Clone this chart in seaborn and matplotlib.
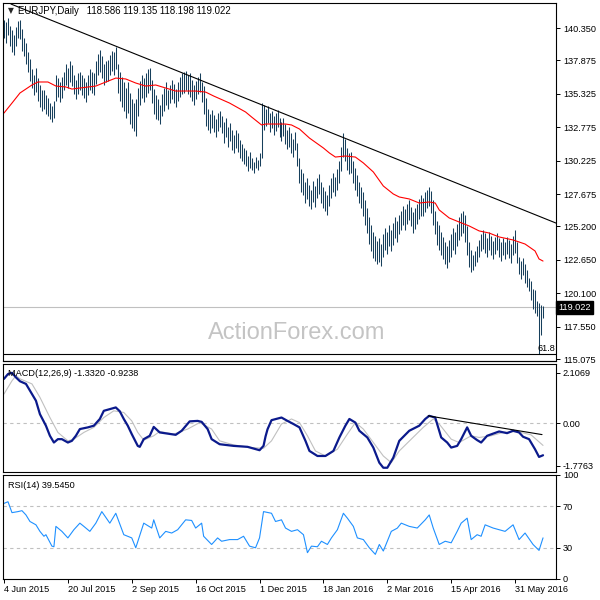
import numpy as np
import pandas as pd
import matplotlib
matplotlib.use("Agg")
import matplotlib.pyplot as plt
import seaborn as sns
from matplotlib.transforms import blended_transform_factory

# ---------------- data ----------------
date_labels = ["4 Jun 2015", "20 Jul 2015", "2 Sep 2015", "16 Oct 2015", "1 Dec 2015",
               "18 Jan 2016", "2 Mar 2016", "15 Apr 2016", "31 May 2016"]
date_label_idx = [0, 32, 64, 96, 128, 160, 192, 224, 256]

high = (
    [141.0, 140.8, 141.1, 140.5, 140.2, 139.8, 140.4, 140.9, 141.0, 140.3] +
    [139.6, 139.2, 138.5, 138.0, 137.2, 136.8, 137.3, 136.5, 136.0, 135.6] +
    [135.6, 135.2, 135.0, 134.6, 134.4, 134.8, 136.8, 136.5, 136.2, 136.6] +
    [137.0, 137.6, 137.3, 137.8, 137.5, 136.8, 136.4, 136.9, 137.0, 136.8] +
    [136.5, 136.2, 136.8, 137.2, 137.0, 136.9, 137.8, 138.4, 138.7, 138.2] +
    [137.6, 137.8, 137.9, 138.3, 138.6, 138.5, 138.9, 137.6, 137.0, 136.6] +
    [136.2, 135.8, 136.2, 135.4, 134.9, 134.6, 134.9, 135.8, 136.3, 136.8] +
    [136.5, 136.9, 137.2, 137.3, 136.4, 135.7, 135.2, 134.9, 134.5, 135.3] +
    [135.8, 136.2, 135.6, 136.0, 136.4, 136.1, 135.7, 136.2, 136.6, 136.9] +
    [137.0, 137.1, 136.8, 136.9, 136.4, 136.0, 136.3, 136.6, 136.9, 136.2] +
    [135.9, 135.0, 134.2, 133.8, 134.1, 133.7, 133.4, 133.9, 134.0, 133.6] +
    [133.2, 133.5, 132.8, 133.1, 132.6, 132.2, 132.6, 132.3, 131.8, 131.5] +
    [131.2, 131.0, 130.6, 130.9, 130.4, 130.1, 130.5, 130.3, 130.8, 134.6] +
    [134.5, 134.2, 134.4, 133.9, 134.0, 133.6, 133.9, 134.1, 133.5, 133.2] +
    [133.5, 133.0, 132.6, 132.8, 132.3, 131.9, 132.4, 131.6, 130.4, 129.6] +
    [129.3, 128.6, 128.9, 128.4, 128.0, 128.7, 128.3, 128.9, 129.2, 128.6] +
    [128.2, 127.9, 127.6, 128.4, 128.9, 129.3, 129.0, 129.6, 130.2, 131.3] +
    [132.3, 131.9, 131.2, 130.8, 130.9, 130.2, 129.7, 129.1, 128.6, 128.2] +
    [127.8, 127.2, 126.6, 125.9, 125.3, 124.8, 124.5, 124.1, 124.3, 123.9] +
    [124.6, 125.1, 124.8, 125.3, 124.9, 125.5, 125.9, 125.6, 126.1, 126.4] +
    [126.8, 126.5, 126.9, 127.2, 126.7, 126.3, 126.6, 126.9, 127.3, 127.6] +
    [127.4, 127.8, 128.0, 128.2, 127.9, 127.2, 126.4, 125.6, 125.3, 124.8] +
    [124.4, 124.0, 123.7, 124.2, 124.6, 125.1, 124.8, 125.4, 125.9, 126.2] +
    [126.4, 126.1, 125.2, 124.0, 123.4, 123.0, 123.3, 123.7, 124.2, 124.6] +
    [124.9, 124.7, 124.3, 124.8, 124.5, 124.1, 124.4, 124.7, 124.3, 124.0] +
    [124.3, 124.0, 124.4, 124.2, 123.9, 124.5, 124.9, 124.0, 122.9, 122.6] +
    [122.8, 122.3, 121.9, 121.3, 121.0, 120.4, 120.35, 119.5, 119.35, 119.2, 119.135]
)
low = (
    [139.6, 139.2, 139.8, 139.0, 138.5, 138.3, 139.0, 139.6, 139.5, 138.6] +
    [138.2, 137.6, 137.0, 136.3, 135.8, 135.2, 135.5, 134.8, 134.3, 134.0] +
    [134.2, 133.8, 133.6, 133.4, 133.2, 133.5, 134.8, 135.1, 134.7, 135.0] +
    [135.6, 136.0, 135.8, 136.2, 135.9, 135.3, 134.9, 135.3, 135.6, 135.2] +
    [135.0, 134.7, 135.2, 135.6, 135.4, 135.2, 136.1, 136.8, 137.0, 136.5] +
    [136.0, 136.2, 136.3, 136.8, 137.1, 136.8, 137.2, 135.4, 134.8, 134.3] +
    [134.0, 133.5, 133.9, 133.0, 132.7, 132.5, 132.1, 133.6, 134.5, 135.0] +
    [134.7, 135.1, 135.4, 135.6, 134.6, 133.8, 133.4, 133.3, 133.0, 133.6] +
    [134.0, 134.5, 134.2, 134.6, 134.9, 134.6, 134.3, 134.8, 135.1, 135.3] +
    [135.4, 135.6, 135.3, 135.1, 134.8, 134.5, 134.9, 135.3, 135.5, 134.7] +
    [133.8, 132.9, 132.6, 132.3, 132.7, 132.4, 132.0, 132.5, 132.8, 132.3] +
    [131.6, 132.0, 131.3, 131.7, 131.0, 130.8, 131.2, 130.9, 130.4, 130.2] +
    [130.0, 129.8, 129.4, 129.7, 129.5, 129.3, 129.7, 129.5, 129.8, 130.4] +
    [132.6, 132.9, 133.1, 132.4, 132.7, 132.2, 132.5, 132.8, 132.0, 131.7] +
    [132.1, 131.5, 131.1, 131.3, 130.8, 130.5, 131.0, 129.8, 128.5, 127.8] +
    [127.6, 127.0, 127.3, 126.8, 126.5, 127.1, 126.7, 127.4, 127.7, 127.0] +
    [126.6, 126.4, 126.1, 126.8, 127.4, 127.8, 127.5, 128.0, 128.5, 129.4] +
    [130.5, 130.2, 129.5, 129.2, 129.3, 128.5, 128.0, 127.5, 127.0, 126.6] +
    [126.0, 125.3, 124.7, 123.9, 123.3, 122.8, 122.6, 122.3, 122.5, 122.2] +
    [122.9, 123.4, 123.1, 123.7, 123.3, 123.8, 124.3, 124.0, 124.6, 124.9] +
    [125.3, 124.9, 125.4, 125.7, 125.2, 124.7, 125.0, 125.4, 125.8, 126.0] +
    [126.0, 126.3, 126.6, 126.8, 126.2, 125.3, 124.6, 123.8, 123.4, 123.0] +
    [122.7, 122.3, 122.0, 122.5, 122.9, 123.4, 123.1, 123.7, 124.2, 124.5] +
    [124.7, 124.0, 123.0, 122.1, 121.7, 121.9, 122.2, 122.5, 122.9, 123.3] +
    [123.5, 123.2, 122.9, 123.4, 123.0, 122.7, 123.1, 123.4, 122.9, 122.6] +
    [123.0, 122.7, 123.1, 122.8, 122.4, 123.0, 123.2, 122.4, 121.6, 121.2] +
    [121.5, 120.9, 120.6, 120.3, 119.6, 118.9, 118.6, 118.4, 115.45, 116.9, 118.198]
)

ma_idx = [0, 4, 8, 14, 17, 22, 26, 31, 34, 38, 46, 51, 56, 61, 66, 71, 76, 81, 86, 91, 96,
          101, 105, 113, 121, 124, 129, 131, 136, 141, 144, 148, 153, 160, 163, 166, 171, 176,
          180, 185, 190, 195, 198, 203, 208, 213, 216, 218, 223, 228, 233, 238, 243, 248, 255,
          261, 266, 268, 270]
ma_val = [133.86, 134.62, 135.39, 136.0, 136.23, 136.23, 135.92, 135.85, 135.69, 135.77, 135.92,
          136.23, 136.53, 136.46, 136.15, 135.92, 136.0, 135.77, 135.54, 135.54, 135.54, 135.46,
          135.16, 134.62, 133.94, 133.56, 132.95, 133.02, 133.02, 133.02, 132.95, 132.64, 131.95,
          131.19, 130.81, 130.50, 130.58, 130.50, 130.05, 129.36, 128.29, 127.68, 127.45, 127.30,
          126.99, 127.07, 126.99, 126.46, 125.85, 125.54, 125.24, 124.86, 124.70, 124.40, 124.17,
          123.86, 123.33, 122.72, 122.56]

trend_idx = [3.5, 276.5]
trend_val = [142.18, 125.46]
last_close = 119.022
fib_level = 115.46

macd_idx = [0, 2, 4, 6, 8, 11, 13, 16, 18, 21, 23, 25, 27, 29, 32, 34, 36, 38, 42, 45, 48, 50,
            53, 56, 58, 60, 62, 64, 67, 68, 70, 73, 75, 78, 82, 86, 89, 93, 97, 99, 102, 104,
            108, 115, 122, 128, 130, 131, 132, 134, 139, 142, 145, 148, 151, 153, 157, 161, 165,
            168, 171, 173, 176, 178, 182, 185, 188, 190, 192, 195, 198, 203, 208, 211, 213, 216,
            219, 222, 224, 227, 229, 232, 234, 237, 239, 242, 245, 248, 252, 255, 258, 260, 263,
            266, 268, 270]
macd_val = [1.85, 2.05, 2.10, 1.91, 1.75, 1.64, 1.36, 0.94, 0.38, -0.10, -0.52, -0.80, -0.66,
            -0.66, -0.80, -0.73, -0.52, -0.24, -0.17, -0.10, 0.18, 0.52, 0.59, 0.66, 0.50, 0.18,
            -0.10, -0.45, -0.94, -0.98, -0.66, -0.52, -0.15, -0.38, -0.43, -0.48, -0.31, 0.08,
            0.10, 0.06, -0.24, -0.66, -0.87, -0.94, -0.98, -1.12, -0.94, -0.55, -0.25, 0.13, 0.24,
            0.10, -0.03, -0.17, -0.73, -1.15, -1.36, -1.36, -1.15, -0.59, -0.10, 0.18, 0.03, -0.31,
            -0.59, -1.01, -1.64, -1.85, -1.85, -1.43, -0.73, -0.31, -0.10, 0.18, 0.31, 0.24, -0.59,
            -0.80, -1.01, -0.94, -0.66, -0.17, -0.52, -0.70, -0.80, -0.52, -0.43, -0.34, -0.41,
            -0.31, -0.38, -0.56, -0.66, -1.08, -1.40, -1.33]

signal_idx = [0, 4, 6, 8, 14, 18, 23, 27, 32, 35, 40, 45, 50, 55, 60, 64, 67, 70, 75, 78, 85,
              92, 98, 104, 108, 115, 124, 130, 134, 139, 144, 148, 152, 156, 161, 167, 172, 176,
              180, 185, 190, 194, 198, 204, 210, 215, 218, 224, 228, 234, 238, 244, 250, 257,
              264, 267, 270]
signal_val = [1.22, 1.77, 1.98, 1.85, 1.64, 1.08, 0.24, -0.38, -0.73, -0.66, -0.38, -0.17, 0.24,
              0.52, 0.45, 0.10, -0.38, -0.70, -0.52, -0.34, -0.45, -0.24, 0.03, -0.24, -0.73,
              -0.90, -1.01, -1.04, -0.73, -0.03, 0.18, 0.03, -0.52, -1.15, -1.36, -1.08, -0.45,
              0.03, -0.24, -0.80, -1.36, -1.64, -1.15, -0.66, -0.17, 0.18, -0.03, -0.66, -0.80,
              -0.52, -0.59, -0.52, -0.38, -0.34, -0.48, -0.70, -0.92]
macd_trend_idx = [212.5, 269.5]
macd_trend_val = [0.31, -0.47]

rsi_idx = [0, 2, 4, 7, 9, 11, 13, 16, 18, 20, 21, 24, 25, 26, 29, 32, 35, 38, 40, 43, 46, 49,
           53, 56, 60, 64, 66, 70, 74, 75, 78, 81, 84, 87, 91, 94, 96, 99, 100, 104, 107, 109,
           113, 117, 120, 123, 126, 128, 130, 134, 136, 139, 141, 144, 147, 150, 152, 154, 157,
           159, 162, 164, 167, 170, 172, 175, 177, 180, 183, 186, 188, 190, 192, 194, 197, 199,
           203, 207, 211, 213, 215, 218, 221, 224, 227, 229, 232, 234, 237, 239, 241, 245, 248,
           251, 255, 258, 261, 265, 268, 270]
rsi_val = [72.7, 74.3, 63.8, 64.8, 65.7, 61.6, 55.3, 52.1, 45.8, 41.1, 42.6, 31.6, 31.0, 50.6,
           45.8, 39.5, 47.4, 53.7, 50.6, 45.8, 53.7, 64.8, 53.7, 63.2, 42.6, 39.5, 30.0, 53.7,
           49.0, 56.9, 39.5, 45.8, 44.2, 47.4, 56.9, 56.3, 49.0, 53.7, 41.1, 33.2, 39.5, 36.3,
           37.9, 37.9, 41.1, 31.6, 30.0, 39.5, 64.8, 63.2, 55.3, 56.9, 49.0, 45.8, 47.4, 42.6,
           25.3, 31.6, 31.0, 36.3, 33.2, 39.5, 47.4, 63.2, 58.5, 50.6, 39.5, 37.9, 30.0, 23.7,
           33.2, 26.9, 36.3, 45.8, 48.9, 53.7, 50.6, 49.0, 56.9, 61.6, 49.0, 33.2, 36.3, 34.8,
           45.8, 53.7, 58.5, 37.9, 42.6, 41.1, 52.1, 49.0, 47.4, 45.8, 52.1, 37.9, 44.2, 33.2,
           27.5, 39.545]

# ---------------- style ----------------
sns.set_theme(style="white")
plt.rcParams["font.family"] = ["Liberation Sans", "DejaVu Sans"]
plt.rcParams["axes.linewidth"] = 0.75

W = H = 600.0
fig = plt.figure(figsize=(6, 6), dpi=100)
fig.patch.set_facecolor("white")


def rect(top, bottom, left=3, right=556):
    return [left / W, 1 - bottom / H, (right - left) / W, (bottom - top) / H]


ax = fig.add_axes(rect(3, 361))
axm = fig.add_axes(rect(364, 472), sharex=ax)
axr = fig.add_axes(rect(475, 579), sharex=ax)

FS = 6.6
BAR = "#173f5c"
idx = np.arange(len(high))
bars = pd.DataFrame({"i": idx, "high": high, "low": low})

# ---------------- main price panel ----------------
ax.vlines(bars["i"], bars["low"], bars["high"], color=BAR, linewidth=0.75)
ma_df = pd.DataFrame({"i": ma_idx, "ma": ma_val})
sns.lineplot(data=ma_df, x="i", y="ma", ax=ax, color="#ff0000", linewidth=0.8,
             sort=False, estimator=None)
tr_df = pd.DataFrame({"i": trend_idx, "v": trend_val})
sns.lineplot(data=tr_df, x="i", y="v", ax=ax, color="black", linewidth=0.8,
             sort=False, estimator=None)
ax.axhline(last_close, color="#c0c0c0", linewidth=0.8, zorder=0)
ax.axhline(fib_level, color="black", linewidth=0.8)
ax.set_xlim(-0.5, 276.5)
ax.set_ylim(114.93, 142.26)
price_ticks = [140.350, 137.875, 135.325, 132.775, 130.225, 127.675, 125.200,
               122.650, 120.100, 117.550, 115.075]
ax.set_yticks(price_ticks)
ax.set_yticklabels([f"{t:.3f}" for t in price_ticks])
ax.text(1.0 - 0.002, fib_level + 0.1, "61.8",
        transform=blended_transform_factory(ax.transAxes, ax.transData),
        ha="right", va="bottom", fontsize=FS, color="black")
ax.text(1.0 + 2 / 553, last_close, "119.022",
        transform=blended_transform_factory(ax.transAxes, ax.transData),
        ha="left", va="center", fontsize=FS, color="white", zorder=10, clip_on=False,
        bbox=dict(boxstyle="square,pad=0.25", fc="black", ec="black"))
ax.text(8 / 553, 1 - 8 / 358, "\u25bc", transform=ax.transAxes, fontsize=5.5,
        ha="center", va="center", family=["DejaVu Sans"])
ax.text(15 / 553, 1 - 8 / 358, "EURJPY,Daily   118.586 119.135 118.198 119.022",
        transform=ax.transAxes, fontsize=6.9, ha="left", va="center", color="black")
fig.text(297 / W, 1 - 333 / H, "ActionForex.com", fontsize=17, color="#c4c4c4",
         ha="center", va="center")

# ---------------- MACD panel ----------------
axm.axhline(0, color="#c0c0c0", linewidth=0.8, linestyle=(0, (3, 3)))
sg_df = pd.DataFrame({"i": signal_idx, "v": signal_val})
sns.lineplot(data=sg_df, x="i", y="v", ax=axm, color="#c0c0c0", linewidth=0.8,
             sort=False, estimator=None)
md_df = pd.DataFrame({"i": macd_idx, "v": macd_val})
sns.lineplot(data=md_df, x="i", y="v", ax=axm, color="#0b1a8c", linewidth=1.6,
             sort=False, estimator=None)
mt_df = pd.DataFrame({"i": macd_trend_idx, "v": macd_trend_val})
sns.lineplot(data=mt_df, x="i", y="v", ax=axm, color="black", linewidth=0.8,
             sort=False, estimator=None)
axm.set_ylim(-2.027, 2.468)
axm.set_yticks([2.1069, 0.0, -1.7763])
axm.set_yticklabels(["2.1069", "0.00", "-1.7763"])
axm.text(5 / 553, 1 - 10 / 108, "MACD(12,26,9) -1.3320 -0.9238", transform=axm.transAxes,
         fontsize=FS, ha="left", va="center", color="black")

# ---------------- RSI panel ----------------
for lvl in (70, 30):
    axr.axhline(lvl, color="#c0c0c0", linewidth=0.8, linestyle=(0, (3, 3)))
rs_df = pd.DataFrame({"i": rsi_idx, "v": rsi_val})
sns.lineplot(data=rs_df, x="i", y="v", ax=axr, color="#1e90ff", linewidth=0.8,
             sort=False, estimator=None)
axr.set_ylim(0, 100)
axr.set_yticks([100, 70, 30, 0])
axr.set_yticklabels(["100", "70", "30", "0"])
labs = axr.get_yticklabels()
labs[0].set_va("top")
labs[-1].set_va("bottom")
axr.text(5 / 553, 1 - 10 / 104, "RSI(14) 39.5450", transform=axr.transAxes,
         fontsize=FS, ha="left", va="center", color="black")
axr.set_xticks(date_label_idx)
axr.set_xticklabels(date_labels, ha="left", fontsize=FS)

# ---------------- common axis styling ----------------
for a in (ax, axm, axr):
    a.set_xlabel("")
    a.set_ylabel("")
    a.yaxis.tick_right()
    a.tick_params(axis="y", which="both", right=True, left=False, length=3, width=0.7,
                  pad=2, labelsize=FS, colors="black")
    for s in a.spines.values():
        s.set_color("black")
        s.set_linewidth(0.8)
    a.set_facecolor("white")
for a in (ax, axm):
    a.tick_params(axis="x", which="both", bottom=False, labelbottom=False)
axr.tick_params(axis="x", bottom=True, length=3, width=0.7, pad=1.5, labelsize=FS,
                colors="black")
axr.set_xlim(-0.5, 276.5)

# separator between main window and MACD window
fig.add_artist(plt.Line2D([3 / W, 556 / W], [1 - 361 / H, 1 - 361 / H], color="black",
                          linewidth=0.8))

fig.savefig("out.png", dpi=100, facecolor="white")
